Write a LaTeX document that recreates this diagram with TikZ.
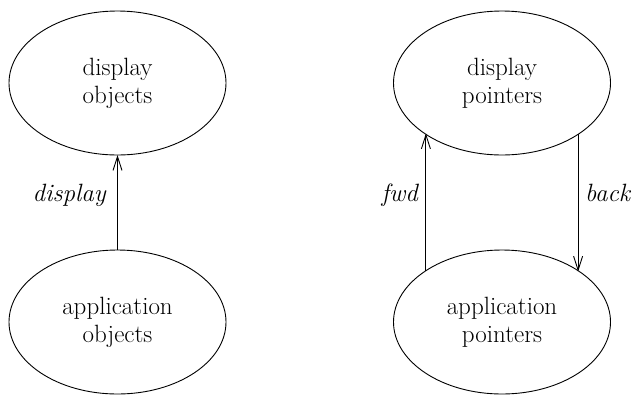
\documentclass[tikz,border=0pt]{standalone}
\usetikzlibrary{shapes.geometric,arrows.meta}
\tikzset{
  ell/.style={draw, ellipse, line width=0.9pt, minimum width=217pt, minimum height=144pt, inner sep=0pt, outer sep=0pt, align=center, font=\fontsize{25}{28}\selectfont},
  lbl/.style={font=\fontsize{25}{28}\selectfont\itshape, inner sep=0pt},
  conn/.style={line width=0.9pt, -{Straight Barb[length=14pt,width=9pt,line width=0.9pt]}}
}
\begin{document}
\begin{tikzpicture}[x=1pt,y=-1pt]
\useasboundingbox (0,0) rectangle (636,394);
\node[ell] (d1) at (117.5,83) {display\\objects};
\node[ell] (a1) at (117.5,322) {application\\objects};
\node[ell] (d2) at (502,83) {display\\pointers};
\node[ell] (a2) at (502,322) {application\\pointers};
\draw[conn] (a1.north) -- (d1.south);
\draw[conn] (a2.146.7) -- (a2.146.7 |- d2.213.3);
\draw[conn] (d2.326.7) -- (d2.326.7 |- a2.33.3);
\node[lbl, anchor=base east] (l1) at (106,201) {display};
\node[lbl, anchor=base east] (l2) at (418,201) {fwd};
\node[lbl, anchor=base west] (l3) at (585,201) {back};
\end{tikzpicture}
\end{document}
